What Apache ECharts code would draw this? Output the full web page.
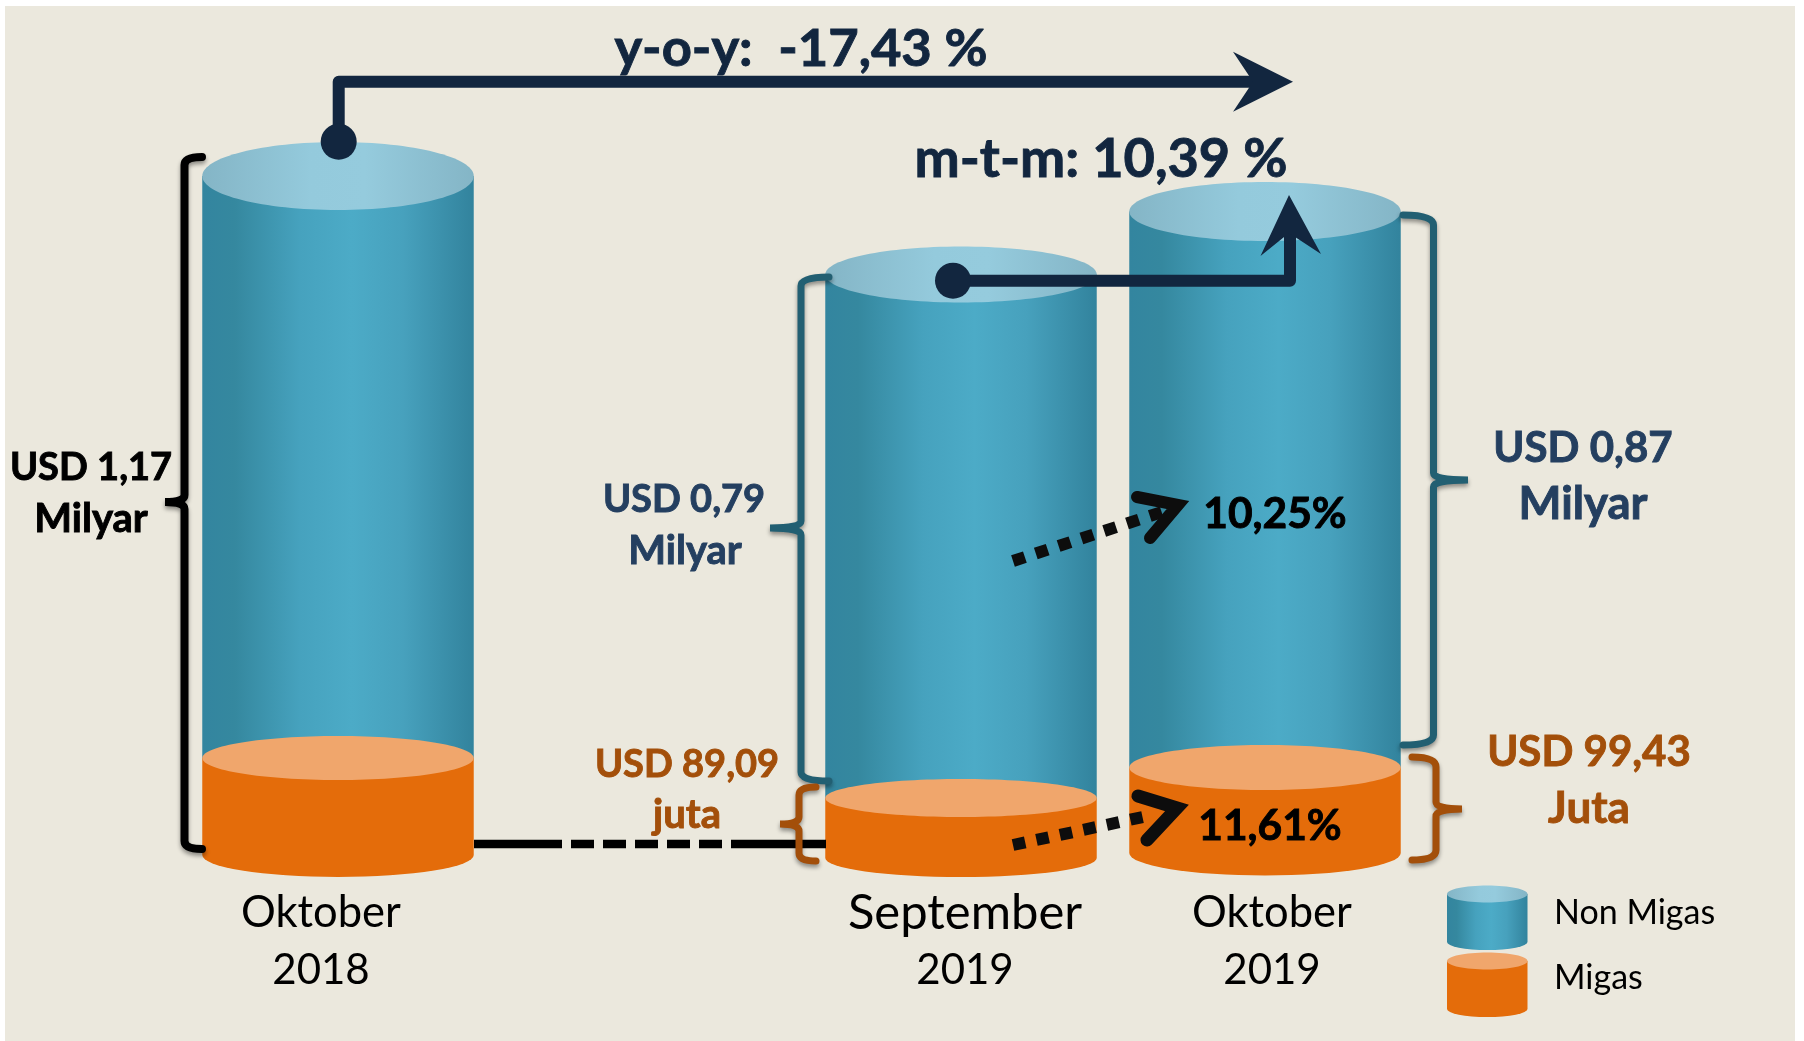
<!DOCTYPE html>
<html><head><meta charset="utf-8">
<style>html,body{margin:0;padding:0;background:#fff}#c{width:1804px;height:1041px}</style>
<script src="https://cdn.jsdelivr.net/npm/echarts@6/dist/echarts.min.js"></script>
</head><body><div id="c"></div>
<script>
// ---- data ----
const categories = ['Oktober\n2018', '', 'September\n2019', 'Oktober\n2019'];
// drawn cylinder heights (the drawing is not to scale with its labels)
const migasHeight = [97, null, 60, 85.5];
const nonMigasHeight = [582, null, 523.5, 556];
const totalLabel = ['USD 1,17', 'Milyar'];
const nonMigasLabels = [['USD 0,79', 'Milyar'], ['USD 0,87', 'Milyar']];
const migasLabels = [['USD 89,09', 'juta'], ['USD 99,43', 'Juta']];
const growthLabels = ['10,25%', '11,61%'];
const yoyLabel = 'y-o-y:  -17,43 %';
const mtmLabel = 'm-t-m: 10,39 %';
const legendNames = ['Non Migas', 'Migas'];

// ---- layout of the drawing ----
const dx = [-15, 0, 0, 0];
const lift = [22, 0, 19, 24];
const ryLow = [22, 0, 19, 22.5];
const ryTop = [34, 0, 28, 29.5];
const AXIS_Y0 = 877;
const FONT = 'Lato, Carlito, sans-serif';
const NAVY = '#12263f', TEAL = '#225f72', BROWN = '#a34f0a', SLATE = '#243f60', BLACK = '#0d0d0d';

const { LinearGradient } = echarts.graphic;
const blueBody = () => new LinearGradient(0, 0, 1, 0, [
  { offset: 0, color: '#33859f' }, { offset: .12, color: '#35889f' }, { offset: .36, color: '#46a2be' },
  { offset: .55, color: '#4cabc7' }, { offset: .74, color: '#47a1bd' }, { offset: 1, color: '#32839d' }]);
const blueTop = () => new LinearGradient(0, 0, 1, 0, [
  { offset: 0, color: '#84b5c6' }, { offset: .4, color: '#94cadc' }, { offset: .6, color: '#95cbdd' }, { offset: 1, color: '#84b5c6' }]);

function bodyPath(x0, x1, yTop, yBot, ry) {
  const rx = (x1 - x0) / 2;
  return `M${x0} ${yTop}L${x0} ${yBot}A${rx} ${ry} 0 0 0 ${x1} ${yBot}L${x1} ${yTop}Z`;
}
function cylinder(x0, x1, yTop, ryT, yBot, ryB, bodyFill, topFill) {
  return [
    { type: 'path', shape: { pathData: bodyPath(x0, x1, yTop, yBot, ryB) }, style: { fill: bodyFill } },
    { type: 'ellipse', shape: { cx: (x0 + x1) / 2, cy: yTop, rx: (x1 - x0) / 2, ry: ryT }, style: { fill: topFill } }
  ];
}
function renderSeg(kind) {
  return function (params, api) {
    const i = api.value(0);
    const c0 = api.coord([i, lift[i]]);
    const c1 = api.coord([i, lift[i] + migasHeight[i]]);
    const c2 = api.coord([i, lift[i] + migasHeight[i] + nonMigasHeight[i]]);
    const hw = api.size([1, 0])[0] * 0.4465;
    const x = c0[0] + dx[i];
    const kids = kind === 'migas'
      ? cylinder(x - hw, x + hw, c1[1], ryLow[i], c0[1], ryLow[i], '#e46c0a', '#f0a66c')
      : cylinder(x - hw, x + hw, c2[1], ryTop[i], c1[1], ryLow[i], blueBody(), blueTop());
    return { type: 'group', children: kids };
  };
}
function brace(x, top, bot, mid, tipIn, tipOut, r, color, w) {
  const d = `M${tipIn} ${top}Q${x} ${top} ${x} ${top + r}L${x} ${mid - 7}Q${x} ${mid} ${tipOut} ${mid}Q${x} ${mid} ${x} ${mid + 7}L${x} ${bot - r}Q${x} ${bot} ${tipIn} ${bot}`;
  return { type: 'path', shape: { pathData: d }, style: { fill: null, stroke: color, lineWidth: w, lineCap: 'round', shadowColor: 'rgba(0,0,0,.4)', shadowBlur: 4, shadowOffsetY: 3 } };
}
function txt(t, x, y, size, color, weight, align) {
  const heavy = !weight || weight === 700;
  return { type: 'text', style: { text: t, x, y, fill: color, align: align || 'center', verticalAlign: 'middle',
    stroke: heavy ? color : null, lineWidth: heavy ? 0.9 : 0,
    font: `${weight || 700} ${size}px ${FONT}` } };
}
function line(d, color, w, extra) {
  return { type: 'path', shape: { pathData: d }, style: Object.assign({ fill: null, stroke: color, lineWidth: w, lineJoin: 'round' }, extra || {}) };
}
function solid(d, color) {
  return { type: 'path', shape: { pathData: d }, style: { fill: color } };
}
function renderNotes() {
  const k = [];
  // connector
  k.push(line('M474 844L562 844', '#000', 8.5));
  k.push(line('M571 844L746 844', '#000', 8.5, { lineDash: [23, 9] }));
  k.push(line('M746 844L826 844', '#000', 8.5));
  // braces
  k.push(brace(184.5, 157, 849, 502, 202, 165, 8, '#000', 8));
  k.push(brace(801, 277, 781, 528, 829, 770, 9, TEAL, 7));
  k.push(brace(799, 787, 861, 824, 816, 780, 8, BROWN, 7));
  k.push(brace(1433.5, 215, 745, 480, 1403, 1468, 10, TEAL, 7));
  k.push(brace(1436, 757, 860, 809, 1412, 1462, 10, BROWN, 7));
  // y-o-y arrow
  k.push(line('M338.7 141L338.7 81.7L1262 81.7', NAVY, 12));
  k.push(solid('M1293 81.7L1233 51.7L1253 81.7L1233 111.7Z', NAVY));
  k.push({ type: 'circle', shape: { cx: 338.7, cy: 141.7, r: 18 }, style: { fill: NAVY } });
  // m-t-m arrow
  k.push(line('M953 280.7L1290 280.7L1290 230', NAVY, 12));
  k.push(solid('M1289 195L1260.5 256L1289 233L1321 254Z', NAVY));
  k.push({ type: 'circle', shape: { cx: 953, cy: 280.7, r: 18 }, style: { fill: NAVY } });
  // dotted growth arrows
  k.push(line('M1013 561L1165 511', BLACK, 12, { lineDash: [12.5, 11.5] }));
  k.push(line('M1137 497L1178 505L1150 538', BLACK, 12, { lineCap: 'round', lineJoin: 'miter', miterLimit: 6 }));
  k.push(line('M1013 845L1150 815.5', BLACK, 12, { lineDash: [12.5, 11.5] }));
  k.push(line('M1138 796L1177 808L1147 840', BLACK, 13, { lineCap: 'round', lineJoin: 'miter', miterLimit: 6 }));
  // text
  k.push(txt(yoyLabel, 801, 49, 52.5, NAVY));
  k.push(txt(mtmLabel, 1101, 160, 54, NAVY));
  k.push(txt(totalLabel[0], 91, 468, 38, '#000'));
  k.push(txt(totalLabel[1], 91, 519, 40, '#000'));
  k.push(txt(nonMigasLabels[0][0], 684, 500, 38, SLATE));
  k.push(txt(nonMigasLabels[0][1], 685, 551, 40, SLATE));
  k.push(txt(migasLabels[0][0], 687, 765, 38, BROWN));
  k.push(txt(migasLabels[0][1], 687, 815, 40, BROWN));
  k.push(txt(nonMigasLabels[1][0], 1583, 448, 42, SLATE));
  k.push(txt(nonMigasLabels[1][1], 1583, 504, 45.5, SLATE));
  k.push(txt(migasLabels[1][0], 1589, 752, 42, BROWN));
  k.push(txt(migasLabels[1][1], 1589, 809, 44, BROWN));
  k.push(txt(growthLabels[0], 1275, 514, 42.5, '#000'));
  k.push(txt(growthLabels[1], 1270, 826, 42.5, '#000'));
  // category labels
  const catX = [321, 0, 965, 1272], catSize = [43.5, 0, 49, 43.5];
  categories.forEach((c, i) => {
    if (!c) return;
    const p = c.split('\n');
    k.push(txt(p[0], catX[i], 913, catSize[i], '#000', 400));
    k.push(txt(p[1], catX[i], 970, 42, '#000', 400));
  });
  // legend
  k.push.apply(k, cylinder(1447, 1527.5, 894, 8.5, 942, 8, blueBody(), blueTop()));
  k.push.apply(k, cylinder(1447, 1527.5, 961, 8.5, 1009, 8, '#e46c0a', '#f0a66c'));
  k.push(txt(legendNames[0], 1554, 913, 34, '#000', 400, 'left'));
  k.push(txt(legendNames[1], 1554, 978, 34, '#000', 400, 'left'));
  return { type: 'group', children: k };
}

const idx = categories.map((c, i) => i).filter(i => categories[i]);
const chart = echarts.init(document.getElementById('c'), null, { renderer: 'canvas' });
chart.setOption({
  backgroundColor: '#ffffff',
  animation: false,
  graphic: [{ type: 'rect', z: -10, shape: { x: 5, y: 6, width: 1790, height: 1035 }, style: { fill: '#ebe8dd' } }],
  grid: { left: 201, width: 1216, top: 0, height: AXIS_Y0 },
  xAxis: { type: 'category', data: categories, show: false },
  yAxis: { type: 'value', min: 0, max: AXIS_Y0, show: false },
  series: [
    { name: 'Non Migas', type: 'custom', coordinateSystem: 'cartesian2d', clip: false, z: 2,
      renderItem: renderSeg('non'), data: idx.map(i => [i, nonMigasHeight[i]]) },
    { name: 'Migas', type: 'custom', coordinateSystem: 'cartesian2d', clip: false, z: 3,
      renderItem: renderSeg('migas'), data: idx.map(i => [i, migasHeight[i]]) },
    { name: 'notes', type: 'custom', coordinateSystem: 'none', clip: false, z: 4, silent: true,
      renderItem: renderNotes, data: [[0]] }
  ]
});
</script></body></html>
